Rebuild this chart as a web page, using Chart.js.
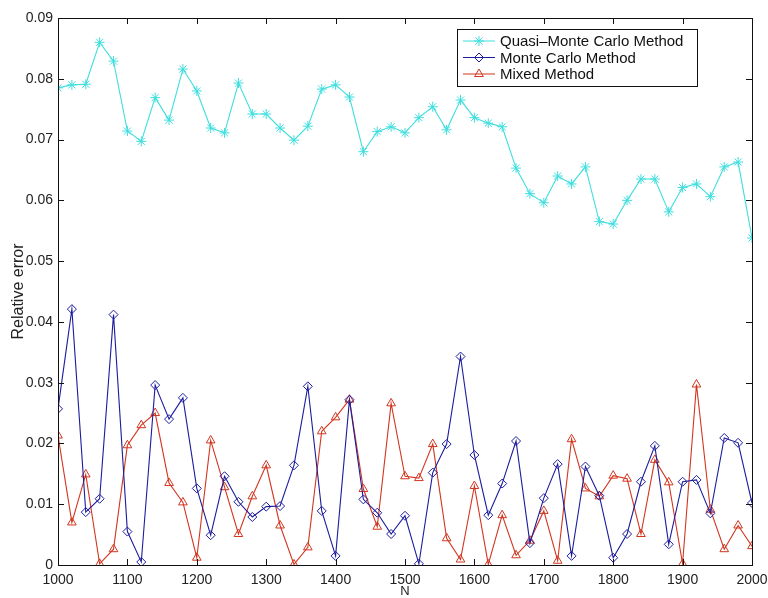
<!DOCTYPE html>
<html>
<head>
<meta charset="utf-8">
<script src="https://cdn.jsdelivr.net/npm/chart.js@4/dist/chart.umd.min.js"></script>
<style>
  html, body { margin: 0; padding: 0; background: #fff; }
  #wrap { width: 768px; height: 598px; }
</style>
</head>
<body>
<div id="wrap"><canvas id="errChart" width="768" height="598"></canvas></div>
<script>
// Relative error vs N for three integration methods (MATLAB-style figure).

const sampleN = [
  1000, 1020, 1040, 1060, 1080, 1100, 1120, 1140, 1160, 1180,
  1200, 1220, 1240, 1260, 1280, 1300, 1320, 1340, 1360, 1380,
  1400, 1420, 1440, 1460, 1480, 1500, 1520, 1540, 1560, 1580,
  1600, 1620, 1640, 1660, 1680, 1700, 1720, 1740, 1760, 1780,
  1800, 1820, 1840, 1860, 1880, 1900, 1920, 1940, 1960, 1980, 2000
];

const quasiMC = [
  0.0785, 0.0790, 0.0791, 0.0860, 0.0829, 0.0714, 0.0697, 0.0769, 0.0732, 0.0816,
  0.0780, 0.0719, 0.0711, 0.0793, 0.0742, 0.0742, 0.0719, 0.0699, 0.0722, 0.0783,
  0.0790, 0.0770, 0.0680, 0.0713, 0.0721, 0.0711, 0.0736, 0.0754, 0.0716, 0.0765,
  0.0736, 0.0727, 0.0721, 0.0653, 0.0611, 0.0596, 0.0640, 0.0627, 0.0655, 0.0565,
  0.0561, 0.0600, 0.0635, 0.0635, 0.0581, 0.0621, 0.0627, 0.0606, 0.0655, 0.0663, 0.0538
];

const monteCarlo = [
  0.0257, 0.0421, 0.0087, 0.0109, 0.0412, 0.0055, 0.0005, 0.0296, 0.0240, 0.0275,
  0.0126, 0.0049, 0.0146, 0.0104, 0.0079, 0.0096, 0.0097, 0.0164, 0.0294, 0.0089,
  0.0015, 0.0272, 0.0108, 0.0086, 0.0051, 0.0081, 0.0002, 0.0152, 0.0199, 0.0343,
  0.0181, 0.0082, 0.0134, 0.0204, 0.0036, 0.0110, 0.0166, 0.0015, 0.0162, 0.0114,
  0.0012, 0.0051, 0.0137, 0.0196, 0.0034, 0.0137, 0.0140, 0.0085, 0.0209, 0.0201, 0.0102
];

const mixed = [
  0.0213, 0.0070, 0.0149, 0.0002, 0.0026, 0.0197, 0.0230, 0.0250, 0.0135, 0.0103,
  0.0012, 0.0205, 0.0128, 0.0051, 0.0113, 0.0164, 0.0065, 0.0001, 0.0029, 0.0220,
  0.0243, 0.0272, 0.0125, 0.0063, 0.0266, 0.0146, 0.0143, 0.0199, 0.0044, 0.0009,
  0.0130, 0.0001, 0.0082, 0.0016, 0.0040, 0.0089, 0.0007, 0.0207, 0.0126, 0.0113,
  0.0147, 0.0142, 0.0051, 0.0173, 0.0136, 0.0002, 0.0297, 0.0091, 0.0026, 0.0065, 0.0031
];

const FONT = '"Liberation Sans", Arial, sans-serif';
const toPts = ys => sampleN.map((n, i) => ({ x: n, y: ys[i] }));

const series = [
  { label: 'Quasi\u2013Monte Carlo Method', data: quasiMC,    color: '#3fdede', style: 'star',    radius: 5 },
  { label: 'Monte Carlo Method',            data: monteCarlo, color: '#1c1c9e', style: 'rectRot', radius: 4.5 },
  { label: 'Mixed Method',                  data: mixed,      color: '#d2351f', style: 'triangle', radius: 5 }
];

// inward ticks on all four sides + closed box, like a MATLAB axes
const boxTicks = {
  id: 'boxTicks',
  afterDatasetsDraw(chart) {
    const { ctx, chartArea: a, scales } = chart;
    const len = 6;
    ctx.save();
    ctx.strokeStyle = '#111';
    ctx.lineWidth = 1;
    ctx.beginPath();
    scales.x.ticks.forEach(t => {
      const px = Math.round(scales.x.getPixelForValue(t.value)) + 0.5;
      ctx.moveTo(px, a.bottom); ctx.lineTo(px, a.bottom - len);
      ctx.moveTo(px, a.top);    ctx.lineTo(px, a.top + len);
    });
    scales.y.ticks.forEach(t => {
      const py = Math.round(scales.y.getPixelForValue(t.value)) + 0.5;
      ctx.moveTo(a.left, py);  ctx.lineTo(a.left + len, py);
      ctx.moveTo(a.right, py); ctx.lineTo(a.right - len, py);
    });
    ctx.stroke();
    ctx.strokeRect(Math.round(a.left) + 0.5, Math.round(a.top) + 0.5,
                   Math.round(a.right - a.left), Math.round(a.bottom - a.top));
    ctx.restore();
  }
};

// boxed legend in the upper right, line + marker samples
const boxLegend = {
  id: 'boxLegend',
  afterDraw(chart) {
    const { ctx } = chart;
    const x0 = 457, y0 = 29, w = 240, h = 57;
    ctx.save();
    ctx.fillStyle = '#fff';
    ctx.fillRect(x0, y0, w, h);
    ctx.strokeStyle = '#111';
    ctx.lineWidth = 1;
    ctx.strokeRect(x0 + 0.5, y0 + 0.5, w, h);
    ctx.font = '15px ' + FONT;
    ctx.textBaseline = 'middle';
    chart.data.datasets.forEach((ds, i) => {
      const y = y0 + 12 + i * 16.5;
      ctx.strokeStyle = ds.borderColor;
      ctx.lineWidth = 1;
      ctx.beginPath();
      ctx.moveTo(x0 + 6, y); ctx.lineTo(x0 + 38, y);
      ctx.stroke();
      ctx.fillStyle = 'rgba(0,0,0,0)';
      Chart.helpers.drawPoint(ctx, {
        pointStyle: ds.pointStyle, radius: ds.pointRadius,
        borderWidth: 1, rotation: 0
      }, x0 + 22, y);
      ctx.fillStyle = '#111';
      ctx.fillText(ds.label, x0 + 43, y + 1);
    });
    ctx.restore();
  }
};

new Chart(document.getElementById('errChart'), {
  type: 'line',
  data: {
    datasets: series.map(s => ({
      label: s.label,
      data: toPts(s.data),
      borderColor: s.color,
      backgroundColor: 'rgba(0,0,0,0)',
      pointBorderColor: s.color,
      pointBackgroundColor: 'rgba(0,0,0,0)',
      pointStyle: s.style,
      pointRadius: s.radius,
      pointBorderWidth: 1,
      borderWidth: 1.1,
      tension: 0
    }))
  },
  options: {
    responsive: false,
    animation: false,
    layout: { padding: { top: 18, right: 16, left: 0, bottom: 0 } },
    plugins: { legend: { display: false }, tooltip: { enabled: false } },
    scales: {
      x: {
        type: 'linear', min: 1000, max: 2000,
        ticks: {
          stepSize: 100, color: '#222', font: { family: FONT, size: 14 }, padding: 7, maxRotation: 0,
          callback: v => String(v)
        },
        grid: { drawOnChartArea: false, drawTicks: false },
        border: { display: false },
        title: { display: true, text: 'N', color: '#222', font: { family: FONT, size: 13, lineHeight: 1 }, padding: 0 },
        afterFit: s => { s.height = 33; s.paddingLeft = 0; s.paddingRight = 0; }
      },
      y: {
        min: 0, max: 0.09,
        ticks: {
          stepSize: 0.01, color: '#222', font: { family: FONT, size: 14 }, padding: 5,
          callback: v => (Math.abs(v) < 1e-9 ? '0' : v.toFixed(2))
        },
        grid: { drawOnChartArea: false, drawTicks: false },
        border: { display: false },
        title: {
          display: true, text: 'Relative error', color: '#222',
          font: { family: FONT, size: 16, lineHeight: 1 }, padding: { top: 11, bottom: 0 }
        },
        afterFit: s => { s.width = 58; s.paddingTop = 0; s.paddingBottom = 0; }
      }
    }
  },
  plugins: [boxTicks, boxLegend]
});
</script>
</body>
</html>
